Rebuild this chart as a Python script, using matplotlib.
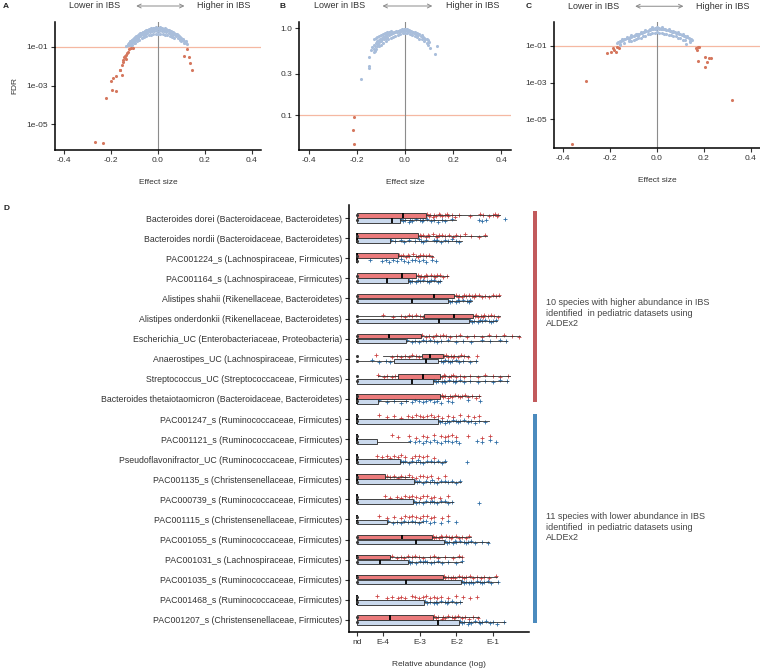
import matplotlib
matplotlib.use('Agg')
import matplotlib.pyplot as plt
from matplotlib.patches import Rectangle
from matplotlib.ticker import FixedLocator, NullLocator

plt.rcParams['font.family'] = ['Liberation Sans', 'DejaVu Sans']

# ---------------- Panel A data (effect size, log10 FDR) ----------------
a_red_pts = [(-0.267, -5.93), (-0.236, -5.98), (-0.221, -3.67), (-0.196, -3.22), (-0.179, -3.26),
             (-0.199, -2.76), (-0.192, -2.60), (-0.181, -2.53), (-0.164, -2.22), (-0.161, -2.19),
             (-0.155, -2.45), (-0.150, -1.76), (-0.153, -1.93), (-0.146, -1.53), (-0.143, -1.47),
             (-0.136, -1.41), (-0.132, -1.33), (-0.129, -1.24), (-0.122, -1.12), (-0.115, -1.07),
             (-0.108, -1.04), (-0.140, -1.55), (-0.138, -1.62), (-0.148, -1.70), (0.109, -1.47),
             (0.122, -1.12), (0.133, -1.50), (0.138, -1.84), (0.145, -2.22)]
a_blue_pts = [(-0.135, -0.95), (-0.130, -0.88), (-0.128, -0.85), (-0.125, -0.82), (-0.122, -0.78),
              (-0.120, -0.80), (-0.118, -0.72), (-0.115, -0.70), (-0.112, -0.66), (-0.110, -0.64),
              (-0.108, -0.62), (-0.105, -0.58), (-0.102, -0.56), (-0.100, -0.53), (-0.097, -0.50),
              (-0.095, -0.49), (-0.092, -0.46), (-0.090, -0.43), (-0.087, -0.41), (-0.085, -0.38),
              (-0.082, -0.36), (-0.080, -0.35), (-0.077, -0.33), (-0.075, -0.30), (-0.072, -0.29),
              (-0.070, -0.27), (-0.066, -0.24), (-0.063, -0.22), (-0.060, -0.21), (-0.057, -0.19),
              (-0.054, -0.17), (-0.050, -0.15), (-0.047, -0.13), (-0.044, -0.12), (-0.040, -0.10),
              (-0.037, -0.09), (-0.034, -0.08), (-0.030, -0.07), (-0.027, -0.06), (-0.024, -0.05),
              (-0.020, -0.04), (-0.017, -0.04), (-0.014, -0.03), (-0.010, -0.03), (-0.007, -0.02),
              (-0.004, -0.02), (0.000, -0.02), (0.003, -0.02), (0.006, -0.03), (0.010, -0.03),
              (0.013, -0.04), (0.016, -0.04), (0.020, -0.05), (0.023, -0.06), (0.026, -0.07),
              (0.030, -0.08), (0.033, -0.09), (0.036, -0.10), (0.040, -0.11), (0.044, -0.13),
              (0.048, -0.15), (0.052, -0.17), (0.056, -0.19), (0.060, -0.21), (0.065, -0.24),
              (0.070, -0.28), (0.075, -0.31), (0.080, -0.35), (0.085, -0.40), (0.090, -0.44),
              (0.095, -0.50), (0.100, -0.55), (0.105, -0.62), (0.110, -0.68), (0.115, -0.75),
              (-0.126, -0.90), (-0.118, -0.84), (-0.112, -0.76), (-0.106, -0.70), (-0.100, -0.64),
              (-0.094, -0.58), (-0.088, -0.52), (-0.082, -0.46), (-0.076, -0.40), (-0.070, -0.35),
              (-0.064, -0.31), (-0.058, -0.27), (-0.052, -0.22), (-0.046, -0.19), (-0.040, -0.16),
              (-0.034, -0.13), (-0.028, -0.11), (-0.022, -0.09), (-0.016, -0.07), (-0.010, -0.06),
              (0.008, -0.06), (0.018, -0.08), (0.028, -0.11), (0.038, -0.14), (0.048, -0.19),
              (0.058, -0.25), (0.068, -0.32), (0.078, -0.40), (0.088, -0.50), (0.098, -0.62),
              (0.108, -0.58), (0.118, -0.70), (0.120, -0.80), (-0.116, -0.92), (-0.104, -0.80),
              (-0.125, -0.92), (-0.115, -0.80), (-0.105, -0.70), (-0.095, -0.60), (-0.085, -0.52),
              (-0.075, -0.44), (-0.065, -0.37), (-0.055, -0.31), (-0.045, -0.27), (-0.035, -0.23),
              (-0.025, -0.20), (-0.015, -0.18), (-0.005, -0.17), (0.005, -0.17), (0.015, -0.18),
              (0.025, -0.20), (0.035, -0.23), (0.045, -0.27), (0.055, -0.31), (0.065, -0.37),
              (0.075, -0.44), (0.085, -0.52), (0.095, -0.60),
              (-0.110, -0.88), (-0.100, -0.80), (-0.090, -0.71), (-0.080, -0.63), (-0.070, -0.56),
              (-0.060, -0.49), (-0.050, -0.44), (-0.040, -0.40), (-0.030, -0.36), (-0.020, -0.34),
              (-0.010, -0.33), (0.000, -0.32), (0.010, -0.33), (0.020, -0.34), (0.030, -0.36),
              (0.040, -0.40), (0.050, -0.44), (0.060, -0.49), (0.070, -0.56),
              (0.092, -0.62), (0.100, -0.72), (0.112, -0.82), (0.125, -0.85),
              (-0.010, 0.03), (0.010, 0.04), (0.030, 0.00), (-0.030, 0.00)]

# ---------------- Panel B data ----------------
b_red_pts = [(-0.211, -1.02), (-0.215, -1.165), (-0.212, -1.33)]
b_blue_pts = [(-0.181, -0.586), (-0.150, -0.44), (-0.150, -0.46), (-0.148, -0.33), (-0.140, -0.25),
              (-0.135, -0.22), (-0.130, -0.24), (-0.127, -0.19), (-0.124, -0.21), (-0.120, -0.17),
              (-0.118, -0.20), (-0.115, -0.15), (-0.112, -0.18), (-0.110, -0.14), (-0.107, -0.16),
              (-0.104, -0.13), (-0.100, -0.15), (-0.097, -0.11), (-0.094, -0.13), (-0.090, -0.10),
              (-0.087, -0.12), (-0.084, -0.09), (-0.080, -0.11), (-0.077, -0.08), (-0.073, -0.10),
              (-0.070, -0.07), (-0.066, -0.08), (-0.062, -0.06), (-0.058, -0.07), (-0.054, -0.05),
              (-0.050, -0.06), (-0.046, -0.04), (-0.042, -0.05), (-0.038, -0.03), (-0.034, -0.05),
              (-0.030, -0.03), (-0.026, -0.04), (-0.022, -0.02), (-0.018, -0.03), (-0.014, -0.01),
              (-0.010, -0.03), (-0.006, -0.01), (-0.002, -0.02), (0.002, -0.01), (0.006, -0.02),
              (0.010, -0.01), (0.014, -0.03), (0.018, -0.02), (0.022, -0.04), (0.026, -0.03),
              (0.030, -0.05), (0.034, -0.04), (0.038, -0.06), (0.042, -0.05), (0.046, -0.07),
              (0.050, -0.06), (0.055, -0.08), (0.060, -0.07), (0.065, -0.09), (0.070, -0.08),
              (0.075, -0.10), (0.080, -0.11), (0.085, -0.12), (0.090, -0.13), (0.095, -0.14),
              (0.100, -0.16), (0.105, -0.23), (0.125, -0.30), (0.132, -0.20),
              (-0.128, -0.12), (-0.122, -0.11), (-0.116, -0.10), (-0.108, -0.09), (-0.100, -0.08),
              (-0.092, -0.07), (-0.084, -0.06), (-0.076, -0.05), (-0.068, -0.04), (-0.060, -0.03),
              (-0.130, -0.28), (-0.125, -0.26), (-0.120, -0.24), (-0.110, -0.21), (-0.100, -0.19),
              (-0.090, -0.17), (-0.080, -0.15), (-0.070, -0.13), (-0.060, -0.11), (-0.050, -0.10),
              (-0.040, -0.09), (-0.030, -0.08), (-0.020, -0.07), (-0.010, -0.06), (0.000, -0.06),
              (0.010, -0.06), (0.020, -0.07), (0.030, -0.08), (0.040, -0.09), (0.050, -0.10),
              (0.060, -0.12), (0.070, -0.13), (0.080, -0.15), (0.090, -0.17), (0.095, -0.19)]

# ---------------- Panel C data ----------------
c_red_pts = [(-0.361, -6.36), (-0.304, -2.91), (-0.214, -1.40), (-0.197, -1.31), (-0.190, -1.09),
             (-0.183, -1.22), (-0.175, -1.34), (-0.171, -1.04), (-0.164, -1.13), (0.167, -1.13),
             (0.174, -1.04), (0.181, -1.08), (0.172, -1.20), (0.174, -1.82), (0.205, -1.62),
             (0.224, -1.67), (0.231, -1.67), (0.214, -1.86), (0.205, -2.16), (0.321, -3.95)]
c_blue_pts = [(-0.170, -0.85), (-0.165, -0.80), (-0.160, -0.75), (-0.155, -0.72), (-0.150, -0.70),
              (-0.145, -0.66), (-0.140, -0.63), (-0.135, -0.60), (-0.130, -0.58), (-0.125, -0.56),
              (-0.120, -0.54), (-0.115, -0.51), (-0.110, -0.49), (-0.105, -0.47), (-0.100, -0.45),
              (-0.095, -0.42), (-0.090, -0.40), (-0.085, -0.37), (-0.080, -0.35), (-0.075, -0.32),
              (-0.070, -0.30), (-0.065, -0.27), (-0.060, -0.25), (-0.055, -0.22), (-0.050, -0.20),
              (-0.045, -0.18), (-0.040, -0.16), (-0.035, -0.14), (-0.030, -0.12), (-0.025, -0.10),
              (-0.020, -0.08), (-0.015, -0.07), (-0.010, -0.06), (-0.005, -0.05), (0.000, -0.04),
              (0.005, -0.04), (0.010, -0.05), (0.015, -0.06), (0.020, -0.07), (0.025, -0.08),
              (0.030, -0.09), (0.035, -0.10), (0.040, -0.12), (0.045, -0.13), (0.050, -0.15),
              (0.055, -0.17), (0.060, -0.19), (0.065, -0.21), (0.070, -0.23), (0.075, -0.25),
              (0.080, -0.27), (0.085, -0.29), (0.090, -0.31), (0.095, -0.33), (0.100, -0.35),
              (0.105, -0.38), (0.110, -0.41), (0.115, -0.44), (0.120, -0.47), (0.125, -0.50),
              (0.130, -0.53), (0.135, -0.56), (0.140, -0.60), (0.145, -0.64), (0.150, -0.67),
              (0.125, -0.90), (-0.150, -0.62), (-0.130, -0.50), (-0.110, -0.40), (-0.090, -0.32),
              (-0.070, -0.24), (-0.050, -0.15), (-0.030, -0.08), (-0.010, -0.02), (0.010, -0.01),
              (0.030, -0.05), (0.050, -0.10), (0.070, -0.17), (0.090, -0.25), (0.110, -0.33),
              (0.130, -0.45), (-0.160, -0.90), (-0.120, -0.64), (-0.080, -0.44), (0.140, -0.72),
              (-0.160, -0.95), (-0.140, -0.86), (-0.120, -0.74), (-0.100, -0.65), (-0.080, -0.55),
              (-0.060, -0.45), (-0.040, -0.36), (-0.020, -0.29), (0.000, -0.23), (0.020, -0.27),
              (0.040, -0.32), (0.060, -0.39), (0.080, -0.47), (0.100, -0.55), (0.120, -0.66),
              (0.140, -0.78), (-0.110, -0.74), (-0.090, -0.64), (-0.070, -0.54), (-0.050, -0.45),
              (-0.030, -0.36), (-0.010, -0.30), (0.010, -0.29), (0.030, -0.33), (0.050, -0.40),
              (0.070, -0.47), (0.090, -0.56), (0.110, -0.66), (-0.020, 0.02), (0.000, 0.03),
              (0.020, 0.02)]

# ---------------- Panel D data (log10 relative abundance) ----------------
ND = -4.69
species = [
    "Bacteroides dorei (Bacteroidaceae, Bacteroidetes)",
    "Bacteroides nordii (Bacteroidaceae, Bacteroidetes)",
    "PAC001224_s (Lachnospiraceae, Firmicutes)",
    "PAC001164_s (Lachnospiraceae, Firmicutes)",
    "Alistipes shahii (Rikenellaceae, Bacteroidetes)",
    "Alistipes onderdonkii (Rikenellaceae, Bacteroidetes)",
    "Escherichia_UC (Enterobacteriaceae, Proteobacteria)",
    "Anaerostipes_UC (Lachnospiraceae, Firmicutes)",
    "Streptococcus_UC (Streptococcaceae, Firmicutes)",
    "Bacteroides thetaiotaomicron (Bacteroidaceae, Bacteroidetes)",
    "PAC001247_s (Ruminococcaceae, Firmicutes)",
    "PAC001121_s (Ruminococcaceae, Firmicutes)",
    "Pseudoflavonifractor_UC (Ruminococcaceae, Firmicutes)",
    "PAC001135_s (Christensenellaceae, Firmicutes)",
    "PAC000739_s (Ruminococcaceae, Firmicutes)",
    "PAC001115_s (Christensenellaceae, Firmicutes)",
    "PAC001055_s (Ruminococcaceae, Firmicutes)",
    "PAC001031_s (Lachnospiraceae, Firmicutes)",
    "PAC001035_s (Ruminococcaceae, Firmicutes)",
    "PAC001468_s (Ruminococcaceae, Firmicutes)",
    "PAC001207_s (Christensenellaceae, Firmicutes)",
]
x_tick_values = [ND, -4, -3, -2, -1]
x_tick_labels = ["nd", "E-4", "E-3", "E-2", "E-1"]

ibs_q1 = [ND, ND, ND, ND, ND, -2.87, ND, -2.94, -3.58, ND, ND, ND, ND, ND, ND, ND, ND, ND, ND, ND, ND]
ibs_med = [-3.45, ND, ND, -3.47, -2.60, -2.06, -3.83, -2.71, -2.91, ND, ND, ND, ND, ND, ND, ND, -3.49, ND, ND, ND, -3.80]
ibs_q3 = [-2.84, -3.04, -3.58, -3.09, -2.06, -1.54, -2.97, -2.37, -2.44, -2.44, ND, ND, ND, -3.94, ND, ND, -2.67, -3.80, -2.37, ND, -2.64]
ibs_wlo = [ND, ND, ND, ND, ND, ND, ND, -4.0, -4.12, ND, ND, ND, ND, ND, ND, ND, ND, ND, ND, ND, ND]
ibs_whi = [-0.81, -1.17, -2.64, -2.24, -0.81, -0.81, -0.27, -1.66, -0.54, -1.35, ND, ND, ND, -3.3, ND, ND, -1.61, -1.84, -0.90, ND, -1.39]

ctl_q1 = [ND, ND, ND, ND, ND, ND, ND, -3.69, ND, ND, ND, ND, ND, ND, ND, ND, ND, ND, ND, ND, ND]
ctl_med = [-3.75, ND, ND, -3.89, -3.22, -2.48, ND, -2.82, -3.21, ND, ND, ND, ND, ND, ND, ND, -3.09, -4.07, -3.38, ND, -2.51]
ctl_q3 = [-3.54, -3.80, ND, -3.31, -2.24, -1.66, -3.38, -2.49, -2.64, -4.12, -2.51, -4.16, -3.54, -3.15, -3.18, -3.89, -2.33, -3.33, -1.87, -2.89, -1.93]
ctl_wlo = [ND] * 21
ctl_whi = [-2.02, -1.84, ND, -2.42, -1.57, -0.90, -0.63, -1.44, -0.59, -3.31, -1.12, -3.27, -2.29, -1.88, -2.10, -2.90, -1.12, -1.84, -0.86, -1.84, -0.68]

ibs_pts = [
    [-2.80, -2.76, -2.72, -2.64, -2.60, -2.55, -2.47, -2.44, -2.40, -2.31, -2.26, -2.22, -2.12, -2.03, -1.92, -1.62, -1.35, -1.27, -1.12, -1.02, -0.95, -0.90, -0.86],
    [-3.00, -2.96, -2.92, -2.83, -2.78, -2.74, -2.65, -2.57, -2.52, -2.48, -2.39, -2.30, -2.21, -2.10, -2.02, -1.90, -1.78, -1.60, -1.40, -1.22],
    [-3.55, -3.50, -3.46, -3.37, -3.33, -3.28, -3.18, -3.09, -3.05, -3.00, -2.92, -2.83, -2.74, -2.66],
    [-3.05, -3.00, -2.96, -2.88, -2.84, -2.79, -2.70, -2.62, -2.58, -2.53, -2.45, -2.36, -2.27],
    [-2.02, -1.97, -1.93, -1.84, -1.80, -1.75, -1.66, -1.58, -1.53, -1.49, -1.40, -1.31, -1.22, -1.12, -1.02, -0.92, -0.84],
    [-4.00, -3.72, -3.52, -3.40, -3.30, -3.20, -3.10, -3.00, -2.92, -1.50, -1.46, -1.42, -1.33, -1.28, -1.24, -1.15, -1.06, -0.97, -0.86],
    [-2.93, -2.84, -2.74, -2.65, -2.56, -2.46, -2.37, -2.28, -2.18, -2.02, -1.90, -1.72, -1.52, -1.32, -1.12, -0.92, -0.70, -0.50, -0.30],
    [-4.20, -3.76, -3.62, -3.50, -3.40, -3.30, -3.20, -3.10, -3.01, -2.33, -2.28, -2.24, -2.15, -2.10, -2.06, -1.97, -1.88, -1.79, -1.70, -1.44],
    [-4.12, -3.98, -3.88, -3.76, -3.66, -2.40, -2.35, -2.30, -2.20, -2.15, -2.10, -2.00, -1.90, -1.80, -1.62, -1.42, -1.22, -1.02, -0.82, -0.60],
    [-2.40, -2.36, -2.31, -2.22, -2.18, -2.13, -2.04, -1.95, -1.90, -1.86, -1.77, -1.68, -1.58, -1.48, -1.38],
    [-4.10, -3.90, -3.70, -3.50, -3.32, -3.20, -3.10, -3.00, -2.90, -2.80, -2.70, -2.60, -2.50, -2.40, -2.22, -2.10, -1.90, -1.70, -1.52, -1.40],
    [-3.76, -3.60, -3.30, -3.10, -2.92, -2.80, -2.62, -2.42, -2.32, -2.22, -2.12, -2.00, -1.70, -1.30, -1.10],
    [-4.16, -4.02, -3.90, -3.80, -3.70, -3.60, -3.50, -3.40, -3.22, -3.12, -3.02, -2.92, -2.80, -2.62],
    [-3.90, -3.80, -3.70, -3.60, -3.50, -3.40, -3.30, -3.20, -3.10, -3.00, -2.90, -2.80, -2.70, -2.50, -2.30],
    [-3.94, -3.80, -3.62, -3.50, -3.40, -3.30, -3.20, -3.10, -3.00, -2.90, -2.80, -2.70, -2.60, -2.45, -2.22],
    [-4.10, -3.90, -3.70, -3.52, -3.40, -3.30, -3.20, -3.10, -3.00, -2.90, -2.80, -2.70, -2.60, -2.40, -2.22],
    [-2.65, -2.60, -2.56, -2.47, -2.42, -2.38, -2.29, -2.20, -2.15, -2.11, -2.02, -1.93, -1.84, -1.75, -1.66],
    [-3.75, -3.62, -3.52, -3.42, -3.32, -3.22, -3.12, -3.02, -2.92, -2.72, -2.62, -2.50, -2.30, -2.10, -1.92, -1.85],
    [-2.35, -2.30, -2.24, -2.14, -2.09, -2.04, -1.94, -1.84, -1.79, -1.74, -1.64, -1.54, -1.44, -1.34, -1.24, -1.12, -0.92],
    [-4.16, -3.90, -3.75, -3.60, -3.50, -3.40, -3.22, -3.12, -3.02, -2.92, -2.82, -2.72, -2.62, -2.52, -2.42, -2.22, -2.02, -1.82, -1.62, -1.45],
    [-2.60, -2.55, -2.50, -2.40, -2.36, -2.31, -2.22, -2.13, -2.08, -2.04, -1.95, -1.86, -1.77, -1.66, -1.55, -1.42],
]
ctl_pts = [
    [-3.50, -3.45, -3.40, -3.30, -3.25, -3.20, -3.10, -3.00, -2.95, -2.90, -2.80, -2.70, -2.60, -2.50, -2.40, -2.30, -2.12, -1.39, -1.30, -1.21, -0.68],
    [-3.78, -3.68, -3.52, -3.42, -3.30, -3.12, -3.02, -2.97, -2.92, -2.82, -2.62, -2.57, -2.52, -2.42, -2.32, -2.22, -2.12, -2.02, -1.92],
    [-4.34, -4.02, -3.92, -3.82, -3.72, -3.62, -3.52, -3.42, -3.32, -3.22, -3.12, -3.02, -2.92, -2.82, -2.66, -2.55],
    [-3.30, -3.25, -3.20, -3.10, -3.05, -3.00, -2.90, -2.80, -2.75, -2.70, -2.60, -2.50, -2.44],
    [-2.22, -2.17, -2.12, -2.02, -1.97, -1.92, -1.82, -1.72, -1.67, -1.62],
    [-1.62, -1.57, -1.52, -1.42, -1.37, -1.32, -1.22, -1.12, -1.07, -1.02, -0.94],
    [-3.35, -3.22, -3.12, -3.02, -2.92, -2.82, -2.72, -2.62, -2.52, -2.42, -2.22, -2.02, -1.82, -1.60, -1.32, -1.10, -0.82, -0.66],
    [-4.30, -4.10, -3.92, -3.80, -2.42, -2.37, -2.32, -2.22, -2.17, -2.12, -2.02, -1.92, -1.82, -1.62, -1.46],
    [-2.60, -2.55, -2.50, -2.40, -2.35, -2.30, -2.20, -2.10, -2.05, -2.00, -1.90, -1.80, -1.62, -1.42, -1.22, -1.02, -0.82, -0.62],
    [-4.10, -3.90, -3.70, -3.52, -3.36, -3.22, -3.12, -3.02, -2.92, -2.82, -2.72, -2.62, -2.52, -2.42, -2.22, -2.12, -1.70, -1.35],
    [-2.50, -2.45, -2.40, -2.30, -2.25, -2.20, -2.10, -2.00, -1.95, -1.90, -1.80, -1.70, -1.60, -1.50, -1.40, -1.22],
    [-3.25, -3.12, -3.02, -2.92, -2.82, -2.72, -2.62, -2.52, -2.42, -2.32, -2.22, -2.12, -2.02, -1.92, -1.44, -1.30, -1.10, -0.92],
    [-3.50, -3.45, -3.40, -3.30, -3.20, -3.10, -3.05, -3.00, -2.90, -2.80, -2.70, -2.60, -2.50, -2.40, -2.30, -1.72],
    [-3.12, -3.07, -3.02, -2.92, -2.82, -2.72, -2.67, -2.62, -2.52, -2.42, -2.32, -2.22, -2.12, -2.02, -1.90],
    [-3.15, -3.10, -3.02, -2.92, -2.82, -2.72, -2.67, -2.62, -2.52, -2.42, -2.32, -2.22, -2.12, -1.40],
    [-3.85, -3.72, -3.62, -3.52, -3.42, -3.32, -3.22, -3.12, -3.02, -2.92, -2.82, -2.72, -2.62, -2.42, -2.22, -2.02],
    [-2.30, -2.25, -2.20, -2.10, -2.05, -2.00, -1.90, -1.80, -1.75, -1.70, -1.60, -1.50, -1.32, -1.14],
    [-3.30, -3.25, -3.20, -3.10, -3.00, -2.90, -2.85, -2.80, -2.70, -2.60, -2.50, -2.40, -2.22, -2.02, -1.86],
    [-1.85, -1.80, -1.75, -1.65, -1.60, -1.55, -1.45, -1.35, -1.30, -1.25, -1.15, -1.05, -0.88],
    [-2.85, -2.80, -2.72, -2.62, -2.57, -2.52, -2.42, -2.32, -2.27, -2.22, -2.12, -2.02, -1.90],
    [-1.90, -1.85, -1.80, -1.70, -1.65, -1.60, -1.50, -1.40, -1.35, -1.30, -1.20, -1.10, -1.00, -0.90, -0.70],
]

higher_text = "10 species with higher abundance in IBS\nidentified  in pediatric datasets using\nALDEx2"
lower_text = "11 species with lower abundance in IBS\nidentified  in pediatric datasets using\nALDEx2"

# ---------------- styling ----------------
BLUE_PT = '#a9bedb'
RED_PT = '#d5775e'
HLINE = '#f5b8a2'
TXT = '#333333'
FS = 6

W, H = 760, 669
fig = plt.figure(figsize=(W / 100, H / 100), dpi=100)


def frac(left, top, right, bottom):
    return [left / W, 1 - bottom / H, (right - left) / W, (bottom - top) / H]


def style_axes(ax, fs=FS):
    for s in ['top', 'right']:
        ax.spines[s].set_visible(False)
    for s in ['left', 'bottom']:
        ax.spines[s].set_linewidth(1.1)
        ax.spines[s].set_color('black')
    ax.tick_params(axis='both', length=3, width=0.8, labelsize=fs, colors=TXT, pad=2)


def volcano(ax, red, blue, ylog_lim, yticks, ylabels, ylabel=None):
    bx, by = zip(*blue)
    rx, ry = zip(*red)
    ax.set_yscale('log')
    ax.axhline(0.1, color=HLINE, lw=0.9, zorder=1)
    ax.axvline(0.0, color='#8c8c8c', lw=0.8, zorder=1)
    ax.scatter(bx, [10 ** v for v in by], s=5, color=BLUE_PT, lw=0, zorder=2)
    ax.scatter(rx, [10 ** v for v in ry], s=5, color=RED_PT, lw=0, zorder=3)
    ax.set_xlim(-0.44, 0.44)
    ax.set_ylim(10 ** ylog_lim[0], 10 ** ylog_lim[1])
    ax.yaxis.set_major_locator(FixedLocator(yticks))
    ax.yaxis.set_minor_locator(NullLocator())
    ax.set_yticklabels(ylabels)
    ax.set_xticks([-0.4, -0.2, 0.0, 0.2, 0.4])
    ax.set_xticklabels(['-0.4', '-0.2', '0.0', '0.2', '0.4'])
    ax.set_xlabel('Effect size', fontsize=FS, color=TXT, labelpad=11)
    if ylabel:
        ax.set_ylabel(ylabel, fontsize=FS, color=TXT, labelpad=6)
    style_axes(ax)
    ax.text(-0.27, 1.125, 'Lower in IBS', transform=ax.get_xaxis_transform(), ha='center',
            va='center', fontsize=6.5, color=TXT)
    ax.text(0.28, 1.125, 'Higher in IBS', transform=ax.get_xaxis_transform(), ha='center',
            va='center', fontsize=6.5, color=TXT)
    ax.annotate('', xy=(0.125, 1.125), xytext=(-0.105, 1.125), xycoords=ax.get_xaxis_transform(),
                textcoords=ax.get_xaxis_transform(),
                arrowprops=dict(arrowstyle='<->', color='#8a8a8a', lw=0.7, mutation_scale=7),
                annotation_clip=False)


axA = fig.add_axes(frac(55, 22, 261, 150))
volcano(axA, a_red_pts, a_blue_pts, (-6.34, 0.29), [1e-1, 1e-3, 1e-5], ['1e-01', '1e-03', '1e-05'], 'FDR')
axB = fig.add_axes(frac(299, 22, 511, 150))
volcano(axB, b_red_pts, b_blue_pts, (-1.40, 0.07), [0.1, 0.3, 1.0], ['0.1', '0.3', '1.0'])
axC = fig.add_axes(frac(554, 22, 760, 148))
volcano(axC, c_red_pts, c_blue_pts, (-6.58, 0.31), [1e-1, 1e-3, 1e-5], ['1e-01', '1e-03', '1e-05'])

for letter, xp, yp in [('A', 3, 6), ('B', 280, 6), ('C', 526, 6), ('D', 3, 208)]:
    fig.text(xp / W, 1 - yp / H, letter, fontsize=6, fontweight='bold', color='#222', va='center', ha='left')

# ---------------- Panel D ----------------
axD = fig.add_axes(frac(349, 205, 529, 632))
n = len(species)
rows = list(range(n))
off_ibs, off_ctl, bw = -0.13, 0.12, 0.23
jit = [-0.05, 0.04, -0.01, 0.06, -0.03, 0.02, -0.06, 0.0, 0.05, -0.02]


def stats_list(q1, med, q3, wlo, whi):
    return [dict(q1=q1[i], med=med[i], q3=q3[i], whislo=wlo[i], whishi=whi[i], fliers=[]) for i in range(n)]


for pts, off, col in [(ibs_pts, off_ibs, '#cc4444'), (ctl_pts, off_ctl, '#2f6ea6')]:
    for i in rows:
        ys = [i + off + jit[k % len(jit)] for k in range(len(pts[i]))]
        axD.scatter(pts[i], ys, marker='+', s=10, linewidths=0.6, color=col, zorder=2)
    axD.scatter([ND] * n, [i + off for i in rows], marker='o', s=5, color='#3a3a3a', lw=0, zorder=5)

for st, off, fc in [(stats_list(ibs_q1, ibs_med, ibs_q3, ibs_wlo, ibs_whi), off_ibs, '#e96f70'),
                    (stats_list(ctl_q1, ctl_med, ctl_q3, ctl_wlo, ctl_whi), off_ctl, '#c6d6ec')]:
    axD.bxp(st, positions=[i + off for i in rows], widths=bw, orientation='horizontal',
            patch_artist=True, showcaps=False, showfliers=False, manage_ticks=False,
            boxprops=dict(facecolor=fc, edgecolor='#333333', linewidth=0.7, alpha=0.92),
            medianprops=dict(color='black', linewidth=1.3),
            whiskerprops=dict(color='#333333', linewidth=0.6), zorder=3)

axD.set_ylim(20.6, -0.65)
axD.set_xlim(-4.92, -0.03)
axD.set_yticks(rows)
axD.set_yticklabels(species)
axD.set_xticks(x_tick_values)
axD.set_xticklabels(x_tick_labels)
axD.set_xlabel('Relative abundance (log)', fontsize=FS, color=TXT, labelpad=11)
style_axes(axD)
axD.tick_params(axis='y', labelsize=6.35)

# group bars and annotations
fig.add_artist(Rectangle((533 / W, 1 - 402 / H), 4 / W, (402 - 211) / H, transform=fig.transFigure,
                         color='#c25a5c', lw=0))
fig.add_artist(Rectangle((533 / W, 1 - 623 / H), 4 / W, (623 - 414) / H, transform=fig.transFigure,
                         color='#4b8bbe', lw=0))
fig.text(546 / W, 1 - 313 / H, higher_text, fontsize=6.5, color='#444', va='center', ha='left', linespacing=1.25)
fig.text(546 / W, 1 - 527 / H, lower_text, fontsize=6.5, color='#444', va='center', ha='left', linespacing=1.25)

fig.savefig('out.png', dpi=100, facecolor='white')
